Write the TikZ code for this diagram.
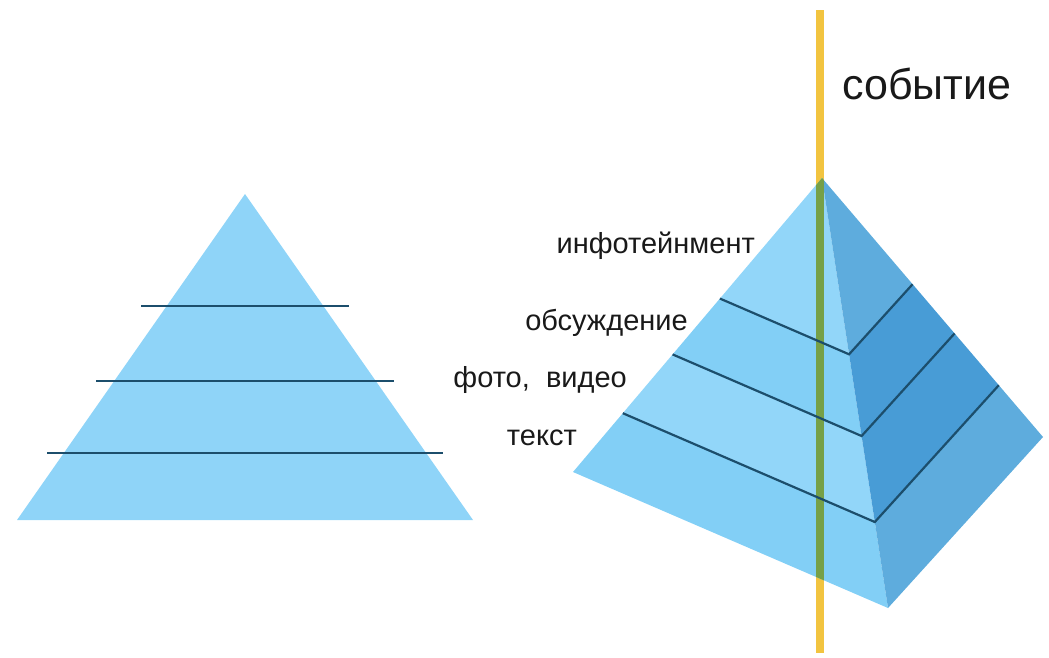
\documentclass[tikz,border=0pt]{standalone}
\usepackage{fontspec}
\setmainfont{Liberation Sans}
\usetikzlibrary{calc}

\definecolor{skyfill}{RGB}{143,212,248}
\definecolor{frontfill}{RGB}{130,207,246}
\definecolor{frontpale}{RGB}{146,214,249}
\definecolor{sidefill}{RGB}{94,172,221}
\definecolor{sidedark}{RGB}{72,156,214}
\definecolor{layerline}{RGB}{28,78,108}
\definecolor{eventline}{RGB}{242,196,64}
\definecolor{eventmix}{RGB}{118,160,72}

\tikzset{
  layer/.style={draw=layerline, line width=2.2pt},
  levellabel/.style={anchor=base east, inner sep=0pt, text=black!90,
    font=\fontsize{29}{31}\selectfont},
}

\begin{document}
\begin{tikzpicture}[x=1pt,y=-1pt]
  \useasboundingbox (0,0) rectangle (1049,657);

  % flat pyramid on the left
  \coordinate (ltop) at (245,194);
  \coordinate (lleft) at (17,520);
  \coordinate (lright) at (473,520);
  \fill[skyfill] (ltop) -- (lleft) -- (lright) -- cycle;

  % levels: height / half width
  \foreach \y/\w in {306/104, 381/149, 453/198} {
    \draw[layer, line width=1.8pt] (245-\w, \y) -- (245+\w, \y);
  }

  % the event line
  \coordinate (etop) at (820,10);
  \coordinate (ebot) at (820,653);
  \draw[eventline, line width=7.5pt] (etop) -- (ebot);

  % pyramid in 3D on the right
  \coordinate (apex) at (822,178);
  \coordinate (pleft) at (573,472);
  \coordinate (pfront) at (888,608);
  \coordinate (pright) at (1043,437);

  % front face, layer by layer
  \foreach \a/\b/\c in {0/0.41/frontpale, 0.41/0.60/frontfill,
                        0.60/0.80/frontpale, 0.80/1/frontfill} {
    \fill[\c] ($(apex)!\a!(pleft)$) -- ($(apex)!\b!(pleft)$)
      -- ($(apex)!\b!(pfront)$) -- ($(apex)!\a!(pfront)$) -- cycle;
  }

  % right face, layer by layer
  \foreach \a/\b/\c in {0/0.41/sidefill, 0.41/0.60/sidedark,
                        0.60/0.80/sidedark, 0.80/1/sidefill} {
    \fill[\c] ($(apex)!\a!(pfront)$) -- ($(apex)!\b!(pfront)$)
      -- ($(apex)!\b!(pright)$) -- ($(apex)!\a!(pright)$) -- cycle;
  }

  % event line seen through the pyramid
  \begin{scope}
    \clip (apex) -- (pleft) -- (pfront) -- (pright) -- cycle;
    \draw[eventmix, line width=7.5pt] (etop) -- (ebot);
  \end{scope}

  % layer borders
  \foreach \t in {0.41, 0.60, 0.80} {
    \draw[layer] ($(apex)!\t!(pleft)$) -- ($(apex)!\t!(pfront)$)
      -- ($(apex)!\t!(pright)$);
  }

  % labels
  \node[levellabel] (infotainment) at (755,253) {инфотейнмент};
  \node[levellabel] (discussion) at (688,330) {обсуждение};
  \node[levellabel] (media) at (627,387) {фото,\ \ видео};
  \node[levellabel] (text) at (577,445) {текст};

  \node[anchor=base west, inner sep=0pt, text=black!90,
    font=\fontsize{43}{45}\selectfont] (event) at (842,99) {событие};

\end{tikzpicture}
\end{document}
